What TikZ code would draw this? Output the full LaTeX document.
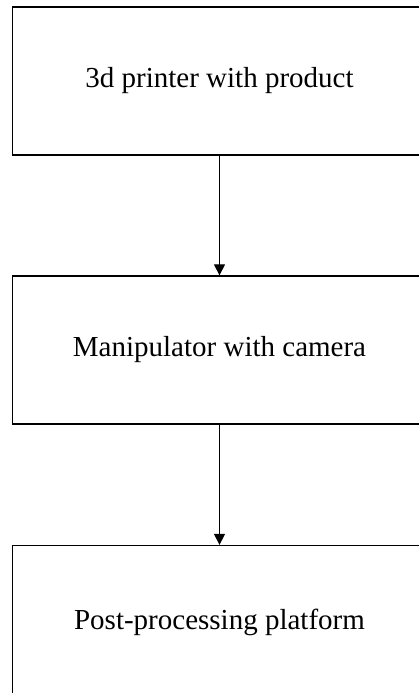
\documentclass[tikz,border=0pt]{standalone}
\usepackage{fontspec}
\setmainfont{Liberation Serif}
\usetikzlibrary{arrows.meta}
\tikzset{
  stage/.style={draw=black, line width=1.3pt, minimum width=414pt, minimum height=148pt,
    inner sep=0pt, font=\fontsize{29}{33}\selectfont},
  flow/.style={draw=black, line width=1.3pt, -{Triangle[width=11pt,length=11pt]}}
}
\begin{document}
\begin{tikzpicture}[x=1pt,y=1pt]
  \useasboundingbox (0,0) rectangle (419,693);
  \clip (0,0) rectangle (419,693);
  \node[stage] (printer) at (219.5,612) {3d printer with product};
  \node[stage] (manip) at (219.5,343) {Manipulator with camera};
  \node[stage, minimum height=154pt] (post) at (219.5,70.5) {Post-processing platform};
  \draw[flow] (printer.south) -- (manip.north);
  \draw[flow] (manip.south) -- (post.north);
\end{tikzpicture}
\end{document}
